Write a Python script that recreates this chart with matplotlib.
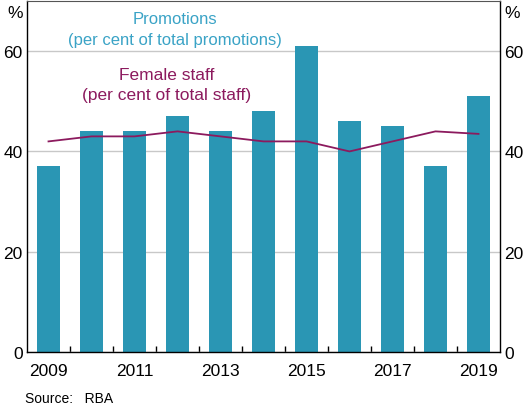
import matplotlib
matplotlib.use("Agg")
import matplotlib.pyplot as plt
import numpy as np

plt.rcParams['font.family'] = ['Liberation Sans', 'DejaVu Sans']

# 数据
years = [2009, 2010, 2011, 2012, 2013, 2014, 2015, 2016, 2017, 2018, 2019]
promotions = [37, 44, 44, 47, 44, 48, 61, 46, 45, 37, 51]
female_staff = [42, 43, 43, 44, 43, 42, 42, 40, 42, 44, 43.5]
year_labels = ['2009', '2011', '2013', '2015', '2017', '2019']
y_ticks = [0, 20, 40, 60]

bar_color = '#2a96b4'
line_color = '#8c1a5e'

fig = plt.figure(figsize=(5.26, 4.10), dpi=100)
ax = fig.add_axes([27 / 526, 57 / 410, 473 / 526, 351 / 410])

ax.bar(years, promotions, width=0.53, color=bar_color, zorder=2)
ax.plot(years, female_staff, color=line_color, lw=1.3, zorder=3)

ax.set_xlim(2008.5, 2019.5)
ax.set_ylim(0, 70)

# 网格线
ax.set_yticks(y_ticks)
ax.yaxis.grid(True, color='#c8c8c8', lw=1, zorder=0)
ax.tick_params(axis='y', length=0, labelsize=12.5, pad=3,
               labelleft=True, labelright=True)

# x轴：标签在年份，短刻度在年份之间
ax.set_xticks([int(y) for y in year_labels])
ax.set_xticklabels(year_labels)
ax.set_xticks(np.arange(2009.5, 2019.5, 1), minor=True)
ax.tick_params(axis='x', which='major', length=0, labelsize=12.5, pad=8)
ax.tick_params(axis='x', which='minor', direction='in', length=4, width=1, color='black')

for s in ['left', 'right', 'bottom']:
    ax.spines[s].set_color('black')
    ax.spines[s].set_linewidth(1)
ax.spines['top'].set_color('#555555')
ax.spines['top'].set_linewidth(0.8)

# 文字标注
ax.text(2011.95, 64.4, 'Promotions\n(per cent of total promotions)', ha='center', va='center',
        color='#3aa3c6', fontsize=12, linespacing=1.5)
ax.text(2011.75, 53.3, 'Female staff\n(per cent of total staff)', ha='center', va='center',
        color=line_color, fontsize=12.5, linespacing=1.45)

fig.text(23 / 526, 1 - 13 / 410, '%', ha='right', va='center', fontsize=12.5)
fig.text(504 / 526, 1 - 13 / 410, '%', ha='left', va='center', fontsize=12.5)
fig.text(25 / 526, 1 - 399 / 410, 'Source:   RBA', ha='left', va='center', fontsize=10)

fig.savefig('out.png', dpi=100)
